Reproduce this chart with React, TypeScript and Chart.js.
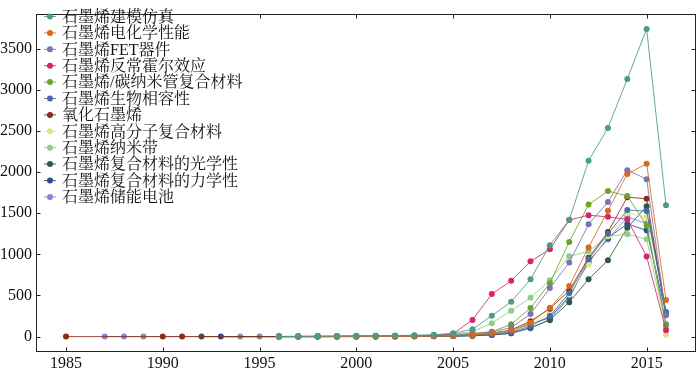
import React, { useEffect, useRef } from "react";
import { Chart, registerables } from "chart.js";
Chart.register(...registerables);

const years = [1996, 1997, 1998, 1999, 2000, 2001, 2002, 2003, 2004, 2005, 2006, 2007, 2008, 2009, 2010, 2011, 2012, 2013, 2014, 2015, 2016];

const seriesNames = [
  "石墨烯建模仿真",
  "石墨烯电化学性能",
  "石墨烯FET器件",
  "石墨烯反常霍尔效应",
  "石墨烯/碳纳米管复合材料",
  "石墨烯生物相容性",
  "氧化石墨烯",
  "石墨烯高分子复合材料",
  "石墨烯纳米带",
  "石墨烯复合材料的光学性",
  "石墨烯复合材料的力学性",
  "石墨烯储能电池",
];

const seriesColors = [
  "#4a9c82", "#d9681c", "#7a72b5", "#d52470", "#6aa52a", "#3f6ea8",
  "#8a2f12", "#e3e38a", "#8ccf8b", "#2f5947", "#244e88", "#7f88cf",
];

const modeling = [2, 3, 4, 6, 8, 10, 12, 15, 22, 40, 90, 255, 423, 697, 1112, 1420, 2137, 2537, 3132, 3740, 1597];
const electrochem = [0, 0, 0, 1, 1, 2, 3, 4, 6, 10, 20, 40, 75, 170, 350, 614, 1084, 1531, 1977, 2102, 446];
const fet = [0, 1, 1, 2, 3, 4, 6, 8, 12, 18, 30, 55, 110, 274, 591, 900, 1366, 1636, 2024, 1914, 260];
const hall = [1, 2, 3, 4, 5, 6, 8, 10, 15, 35, 203, 517, 678, 916, 1061, 1417, 1476, 1456, 1425, 975, 78];
const cnt = [1, 2, 3, 5, 6, 8, 10, 12, 16, 25, 40, 60, 149, 348, 650, 1151, 1605, 1770, 1711, 1350, 137];
const biocompat = [0, 0, 0, 0, 1, 1, 2, 3, 4, 6, 12, 25, 50, 130, 250, 530, 940, 1250, 1538, 1527, 300];
const oxide = [0, 0, 1, 1, 2, 3, 4, 6, 8, 12, 20, 40, 80, 188, 340, 560, 960, 1272, 1695, 1676, 280];
const polymer = [0, 0, 1, 1, 2, 3, 4, 5, 8, 12, 20, 35, 65, 140, 282, 510, 880, 1220, 1500, 1453, 23];
const ribbon = [2, 4, 6, 8, 10, 12, 14, 16, 20, 30, 60, 164, 313, 473, 685, 978, 1037, 1220, 1245, 1183, 110];
const optical = [0, 0, 0, 0, 1, 1, 2, 3, 4, 6, 10, 20, 40, 110, 200, 419, 697, 928, 1323, 1585, 290];
const mechanical = [0, 0, 0, 1, 1, 2, 3, 4, 6, 8, 15, 30, 60, 156, 230, 490, 900, 1200, 1370, 1292, 274];
const battery = [0, 0, 0, 1, 1, 2, 2, 3, 5, 8, 12, 20, 40, 100, 210, 470, 920, 1180, 1456, 1374, 153];

// early isolated records (year, value) before 1996
const oxideEarlyYears = [1985, 1990, 1991];
const oxideEarly = [0, 0, 0];
const opticalEarlyYears = [1992];
const opticalEarly = [0];
const mechanicalEarlyYears = [1993];
const mechanicalEarly = [0];
const batteryEarlyYears = [1987, 1988, 1989, 1994, 1995];
const batteryEarly = [0, 0, 0, 0, 0];

const seriesValues = [modeling, electrochem, fet, hall, cnt, biocompat, oxide, polymer, ribbon, optical, mechanical, battery];
const earlyYears: (number[] | null)[] = [null, null, null, null, null, null, oxideEarlyYears, null, null, opticalEarlyYears, mechanicalEarlyYears, batteryEarlyYears];
const earlyValues: (number[] | null)[] = [null, null, null, null, null, null, oxideEarly, null, null, opticalEarly, mechanicalEarly, batteryEarly];

const xTicks = [1985, 1990, 1995, 2000, 2005, 2010, 2015];
const yTicks = [0, 500, 1000, 1500, 2000, 2500, 3000, 3500];

const FONT = "'Liberation Serif', 'Noto Serif CJK SC', serif";

function hexA(hex: string, a: number) {
  const n = parseInt(hex.slice(1), 16);
  return `rgba(${(n >> 16) & 255},${(n >> 8) & 255},${n & 255},${a})`;
}

const framePlugin = {
  id: "frameTicksLegend",
  afterDraw(chart: any) {
    const { ctx, chartArea: a, scales } = chart;
    ctx.save();
    ctx.strokeStyle = "#222";
    ctx.lineWidth = 1;
    const l = Math.round(a.left) + 0.5, r = Math.round(a.right) - 0.5;
    const t = Math.round(a.top) + 0.5, b = Math.round(a.bottom) - 0.5;
    ctx.strokeRect(l, t, r - l, b - t);
    const L = 4;
    ctx.beginPath();
    scales.x.ticks.forEach((tk: any) => {
      const px = Math.round(scales.x.getPixelForValue(tk.value)) + 0.5;
      ctx.moveTo(px, b); ctx.lineTo(px, b - L);
      ctx.moveTo(px, t); ctx.lineTo(px, t + L);
    });
    scales.y.ticks.forEach((tk: any) => {
      const py = Math.round(scales.y.getPixelForValue(tk.value)) + 0.5;
      ctx.moveTo(l, py); ctx.lineTo(l + L, py);
      ctx.moveTo(r, py); ctx.lineTo(r - L, py);
    });
    ctx.stroke();

    // legend
    const x0 = 44, x1 = 56, mx = 50, tx = 62;
    let y = 16.5;
    const step = 16.4;
    ctx.font = `16px ${FONT}`;
    ctx.textBaseline = "middle";
    ctx.textAlign = "left";
    chart.data.datasets.forEach((ds: any) => {
      ctx.strokeStyle = ds.borderColor;
      ctx.lineWidth = 1;
      ctx.beginPath();
      ctx.moveTo(x0, y); ctx.lineTo(x1, y);
      ctx.stroke();
      ctx.fillStyle = ds.pointBackgroundColor;
      ctx.beginPath();
      ctx.arc(mx, y, 3, 0, Math.PI * 2);
      ctx.fill();
      ctx.fillStyle = "#111";
      ctx.fillText(ds.label, tx, y + 1);
      y += step;
    });
    ctx.restore();
  },
};

export default function App() {
  const ref = useRef<HTMLCanvasElement>(null);
  useEffect(() => {
    document.body.style.margin = "0";
    const datasets = seriesNames.map((name, i) => {
      const pts: { x: number; y: number }[] = [];
      const ey = earlyYears[i], ev = earlyValues[i];
      if (ey && ev) ey.forEach((yr, k) => pts.push({ x: yr, y: ev[k] }));
      years.forEach((yr, k) => pts.push({ x: yr, y: seriesValues[i][k] }));
      return {
        label: name,
        data: pts,
        borderColor: hexA(seriesColors[i], 0.85),
        backgroundColor: seriesColors[i],
        pointBackgroundColor: seriesColors[i],
        pointBorderWidth: 0,
        pointRadius: 3,
        borderWidth: 1,
        tension: 0,
      };
    });
    const chart = new Chart(ref.current!, {
      type: "line",
      data: { datasets },
      options: {
        animation: false,
        responsive: false,
        layout: { padding: 0 },
        plugins: { legend: { display: false }, tooltip: { enabled: false } },
        scales: {
          x: {
            type: "linear",
            min: 1983.45,
            max: 2017.55,
            afterFit: (s: any) => { s.height = 20; },
            afterBuildTicks: (s: any) => { s.ticks = xTicks.map((v) => ({ value: v })); },
            ticks: { callback: (v: any) => String(v), color: "#111", font: { family: FONT, size: 16 }, padding: 2, maxRotation: 0 },
            grid: { display: false, drawTicks: false },
            border: { display: false },
          },
          y: {
            type: "linear",
            min: -187,
            max: 3927,
            afterFit: (s: any) => { s.width = 36; },
            afterBuildTicks: (s: any) => { s.ticks = yTicks.map((v) => ({ value: v })); },
            ticks: { callback: (v: any) => String(v), color: "#111", font: { family: FONT, size: 16 }, padding: 4 },
            grid: { display: false, drawTicks: false },
            border: { display: false },
          },
        },
      },
      plugins: [framePlugin],
    });
    return () => { chart.destroy(); };
  }, []);
  return <canvas ref={ref} width={700} height={372} style={{ display: "block" }} />;
}
